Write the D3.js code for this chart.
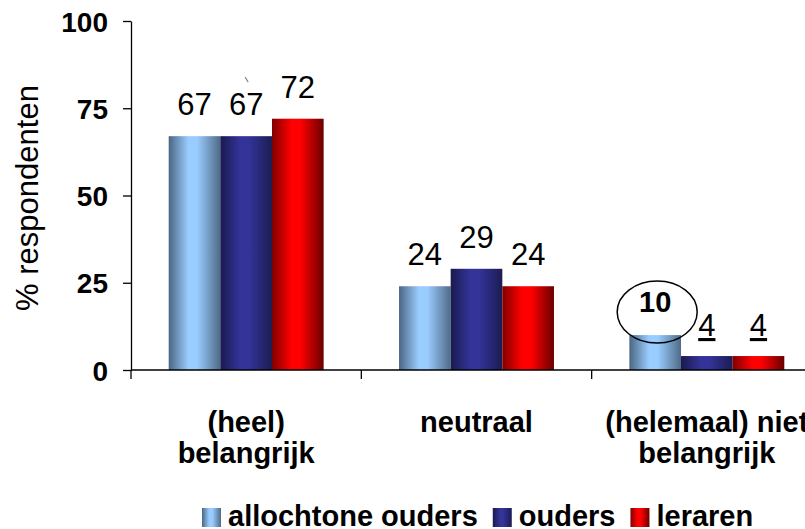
<!DOCTYPE html>
<html><head><meta charset="utf-8">
<script src="https://cdn.jsdelivr.net/npm/d3@7"></script>
<style>
html,body{margin:0;padding:0;background:#fff;}
svg{display:block;font-family:"Liberation Sans",Arial,Helvetica,sans-serif;}
</style></head>
<body><svg id="c" width="805" height="529"></svg>
<script>
const categories = [["(heel)","belangrijk"],["neutraal"],["(helemaal) niet","belangrijk"]];
const categoryKeys = ["heel belangrijk","neutraal","helemaal niet belangrijk"];
const seriesNames = ["allochtone ouders","ouders","leraren"];
const allochtoneOuders = [67,24,10];
const ouders = [67,29,4];
const leraren = [72,24,4];
const seriesValues = [allochtoneOuders, ouders, leraren];
const yTicks = [0,25,50,75,100];

const colors = [
  {edge:"#4a6682", mid:"#99ccff", edge2:"#4f6b88"},
  {edge:"#1a1a4f", mid:"#333399", edge2:"#1c1c52"},
  {edge:"#800000", mid:"#ff0000", edge2:"#6a0000"}
];

const svg = d3.select("#c");
const pLeft = 131, pRight = 822, pTop = 21, pBottom = 370;

const defs = svg.append("defs");
colors.forEach((c,i)=>{
  const g = defs.append("linearGradient").attr("id","g"+i).attr("x1","0").attr("x2","1").attr("y1","0").attr("y2","0");
  g.append("stop").attr("offset","0").attr("stop-color",c.edge);
  g.append("stop").attr("offset","0.38").attr("stop-color",c.mid);
  g.append("stop").attr("offset","0.55").attr("stop-color",c.mid);
  g.append("stop").attr("offset","1").attr("stop-color",c.edge2);
});

const y = d3.scaleLinear().domain([0,100]).range([pBottom, pTop]);
const x0 = d3.scaleBand().domain(categoryKeys).range([pLeft, pRight]).padding(0);
const x1 = d3.scaleBand().domain(seriesNames).range([0, x0.bandwidth()]).paddingInner(0).paddingOuter(0.73);

// y axis
const yAxis = d3.axisLeft(y).tickValues(yTicks).tickSize(8).tickSizeOuter(0).tickPadding(15);
const ya = svg.append("g").attr("transform",`translate(${pLeft},0)`).call(yAxis);
ya.select(".domain").attr("stroke","#000").attr("stroke-width",1.3);
ya.selectAll(".tick line").attr("stroke","#000").attr("stroke-width",1.3);
ya.selectAll(".tick text").attr("font-size",28).attr("font-weight","bold").attr("fill","#000")
  .attr("font-family","'Liberation Sans',Arial,sans-serif").attr("dy","0.36em");

// y title
svg.append("text").attr("transform",`translate(38,198) rotate(-90)`).attr("text-anchor","middle")
  .attr("font-size",31).attr("fill","#000").text("% respondenten");

// bars
const groups = svg.append("g").selectAll("g").data(categoryKeys).join("g")
  .attr("transform",d=>`translate(${x0(d)},0)`);
groups.selectAll("rect").data((d,ci)=>seriesNames.map((s,si)=>({s,si,v:seriesValues[si][ci]})))
  .join("rect")
  .attr("x",d=>x1(d.s)).attr("width",x1.bandwidth())
  .attr("y",d=>y(d.v)).attr("height",d=>y(0)-y(d.v))
  .attr("fill",d=>`url(#g${d.si})`);

// value labels
groups.selectAll("text.v").data((d,ci)=>seriesNames.map((s,si)=>({s,si,ci,v:seriesValues[si][ci]})))
  .join("text").attr("class","v")
  .attr("x",d=>x1(d.s)+x1.bandwidth()/2)
  .attr("y",d=>y(d.v)-(d.ci===2 ? (d.si===0?23:20) : 21))
  .attr("text-anchor","middle")
  .attr("font-size",d=>d.ci===2&&d.si===0?29:31)
  .attr("font-weight",d=>d.ci===2&&d.si===0?"bold":"normal")
  .attr("text-decoration",d=>d.ci===2&&d.si>0?"underline":"none")
  .attr("fill","#000")
  .text(d=>d.v);

// ellipse around "10"
const eCat = categoryKeys[2], eSer = seriesNames[0];
svg.append("ellipse")
  .attr("cx", x0(eCat)+x1(eSer)+x1.bandwidth()/2+2)
  .attr("cy", y(allochtoneOuders[2])-23)
  .attr("rx",40).attr("ry",31)
  .attr("fill","none").attr("stroke","#000").attr("stroke-width",1.5);

// stray small mark above the second 67
const mx = x0(categoryKeys[0])+x1(seriesNames[1])+x1.bandwidth()/2, my = y(ouders[0]);
svg.append("line").attr("x1",mx-1).attr("y1",my-59).attr("x2",mx+2).attr("y2",my-54)
  .attr("stroke","#888").attr("stroke-width",1.2);

// x axis
svg.append("line").attr("x1",pLeft).attr("x2",pRight).attr("y1",pBottom).attr("y2",pBottom)
  .attr("stroke","#000").attr("stroke-width",1.3);
const bounds = categoryKeys.map(k=>x0(k)).concat([x0(categoryKeys[2])+x0.bandwidth()]);
svg.selectAll("line.xt").data(bounds).join("line").attr("class","xt")
  .attr("x1",d=>d).attr("x2",d=>d).attr("y1",pBottom).attr("y2",pBottom+9)
  .attr("stroke","#000").attr("stroke-width",1.3);

// category labels
categories.forEach((lines,i)=>{
  const cx = x0(categoryKeys[i])+x0.bandwidth()/2;
  const t = svg.append("text").attr("x",cx).attr("y",432).attr("text-anchor","middle")
    .attr("font-size",29).attr("font-weight","bold").attr("fill","#000");
  lines.forEach((l,j)=>t.append("tspan").attr("x",cx).attr("y",432+j*31).text(l));
});

// legend
let lx = 202;
seriesNames.forEach((s,i)=>{
  svg.append("rect").attr("x",lx).attr("y",508).attr("width",19).attr("height",19).attr("fill",`url(#g${i})`);
  const t = svg.append("text").attr("x",lx+26).attr("y",526).attr("font-size",29).attr("font-weight","bold")
    .attr("fill","#000").text(s);
  lx = lx + 26 + t.node().getComputedTextLength() + 15;
});
</script></body></html>
